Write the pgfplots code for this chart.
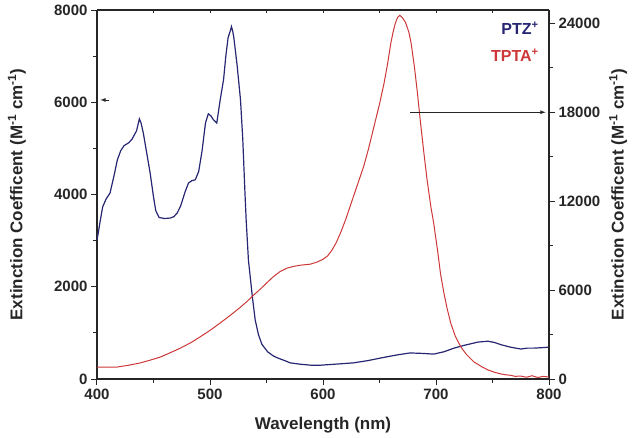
\documentclass[border=0pt]{standalone}
\usepackage{pgfplots}
\pgfplotsset{compat=1.18}
\usepackage{fontspec}
\setmainfont{Liberation Sans}
\definecolor{ptzblue}{RGB}{38,38,115}
\definecolor{tptared}{RGB}{205,55,55}
\begin{document}
\begin{tikzpicture}
\path[use as bounding box] (-97pt,-58pt) rectangle (539pt,379pt);
\pgfplotsset{
  common/.style={
    scale only axis, width=452pt, height=369pt,
    at={(0,0)}, anchor=south west,
    xmin=400, xmax=800,
    axis line style={line width=1.1pt, black!85},
    tick style={line width=1pt, black!85},
    major tick length=6pt, minor tick length=3.5pt,
    tick align=outside,
    ticklabel style={font=\fontsize{15}{15}\selectfont\bfseries, black!85},
    /pgf/number format/assume math mode=true,
    /pgf/number format/1000 sep={},
    scaled ticks=false,
    label style={font=\fontsize{17}{17}\selectfont\bfseries, black!85},
  }
}
% left axis: PTZ+
\begin{axis}[common,
  axis x line*=bottom, axis y line*=left,
  ymin=0, ymax=8000,
  xtick={400,500,600,700,800}, minor xtick={450,550,650,750},
  ytick={0,2000,4000,6000,8000}, minor ytick={1000,3000,5000,7000},
  xlabel={Wavelength (nm)},
  xlabel style={at={(axis description cs:0.5,-0.125)}, anchor=center},
  ylabel={Extinction Coefficent (M\textsuperscript{-1} cm\textsuperscript{-1})},
  ylabel style={at={(axis description cs:-0.177,0.5)}, anchor=center},
]
\addplot[ptzblue, line width=1.2pt] coordinates {
(400,3000) (403,3450) (405,3730) (408,3900) (411.5,4030) (415,4400) (418,4750)
(421,4950) (424,5060) (428,5120) (431,5200) (435,5380) (437.5,5640) (439,5550)
(441,5330) (444,4900) (447,4470) (450,3950) (452,3650) (455,3500) (460,3480)
(465,3490) (468,3520) (471,3600) (474,3750) (478,4060) (481,4250) (484,4300)
(487,4320) (490,4500) (493,4950) (496,5550) (498.5,5750) (501,5700) (503,5620)
(506,5550) (509,6050) (512,6490) (514,7000) (516,7400) (518,7550) (519,7640)
(520,7550) (521,7420) (524,6800) (527,6050) (529,5200) (531,4000) (532,3450)
(534,2580) (537.5,1780) (540,1280) (543,950) (546,750) (551,590) (556,500)
(560,455) (566,400) (571,350) (580,320) (589,300) (598,300) (610,320) (627,350)
(640,400) (651,455) (665,520) (677,565) (688,555) (698,540) (707,590) (716,670)
(725,730) (737,800) (746,820) (752,790) (758,740) (766,690) (775,650) (781,670)
(787,670) (794,680) (800,690)
};
\draw[-latex, line width=0.8pt, black!85] (axis cs:411,6050) -- (axis cs:403,6050);
\end{axis}
% right axis: TPTA+
\begin{axis}[common,
  axis x line=none, axis y line*=right,
  ymin=0, ymax=24900,
  ytick={0,6000,12000,18000,24000}, minor ytick={3000,9000,15000,21000},
  ylabel={Extinction Coefficent (M\textsuperscript{-1} cm\textsuperscript{-1})},
  ylabel style={at={(axis description cs:1.153,0.5)}, anchor=center},
]
\addplot[tptared, line width=1pt] coordinates {
(400,810) (410,800) (418,810) (428,930) (438,1080) (447,1270) (456,1480)
(465,1780) (474,2090) (483,2450) (491,2830) (500,3280) (509,3780) (518,4300)
(527,4850) (533,5250) (538.6,5660) (545,6100) (551,6540) (556,6900) (562,7250)
(568,7480) (574,7600) (580,7680) (589,7750) (595,7900) (600,8080) (604,8300)
(608,8700) (612,9250) (616,9950) (620,10750) (624,11650) (628,12550)
(632,13450) (636,14350) (640,15450) (645,17000) (650,18550) (654,19950)
(657,21200) (660,22650) (662,23400) (664,24000) (666,24400) (668,24540)
(670,24400) (673,24070) (676,23400) (678,22650) (681,21000) (683.6,19280)
(686,17500) (689,15440) (692,13500) (695.5,11600) (698,10500) (701.7,8490)
(704,7100) (707,5800) (710,4700) (713,3780) (717,2900) (722,2160) (727,1650)
(733.6,1150) (740,850) (746,610) (752,450) (757.6,340) (762,280) (766,250)
(770,180) (775,200) (780,120) (785,220) (790,100) (795,180) (800,130)
};
\draw[-latex, line width=0.8pt, black!85] (axis cs:677,18000) -- (axis cs:797,18000);
\node[anchor=east, font=\fontsize{16}{16}\selectfont\bfseries, text=ptzblue]
  at (axis description cs:0.985,0.95) {PTZ\textsuperscript{+}};
\node[anchor=east, font=\fontsize{16}{16}\selectfont\bfseries, text=tptared]
  at (axis description cs:0.985,0.877) {TPTA\textsuperscript{+}};
\end{axis}
% top edge with small inward ticks
\begin{axis}[common,
  axis y line=none, axis x line*=top,
  ymin=0, ymax=1, tick align=inside, major tick length=3.5pt,
  xtick={450,500,...,750}, xticklabels={},
]
\end{axis}
\end{tikzpicture}
\end{document}
